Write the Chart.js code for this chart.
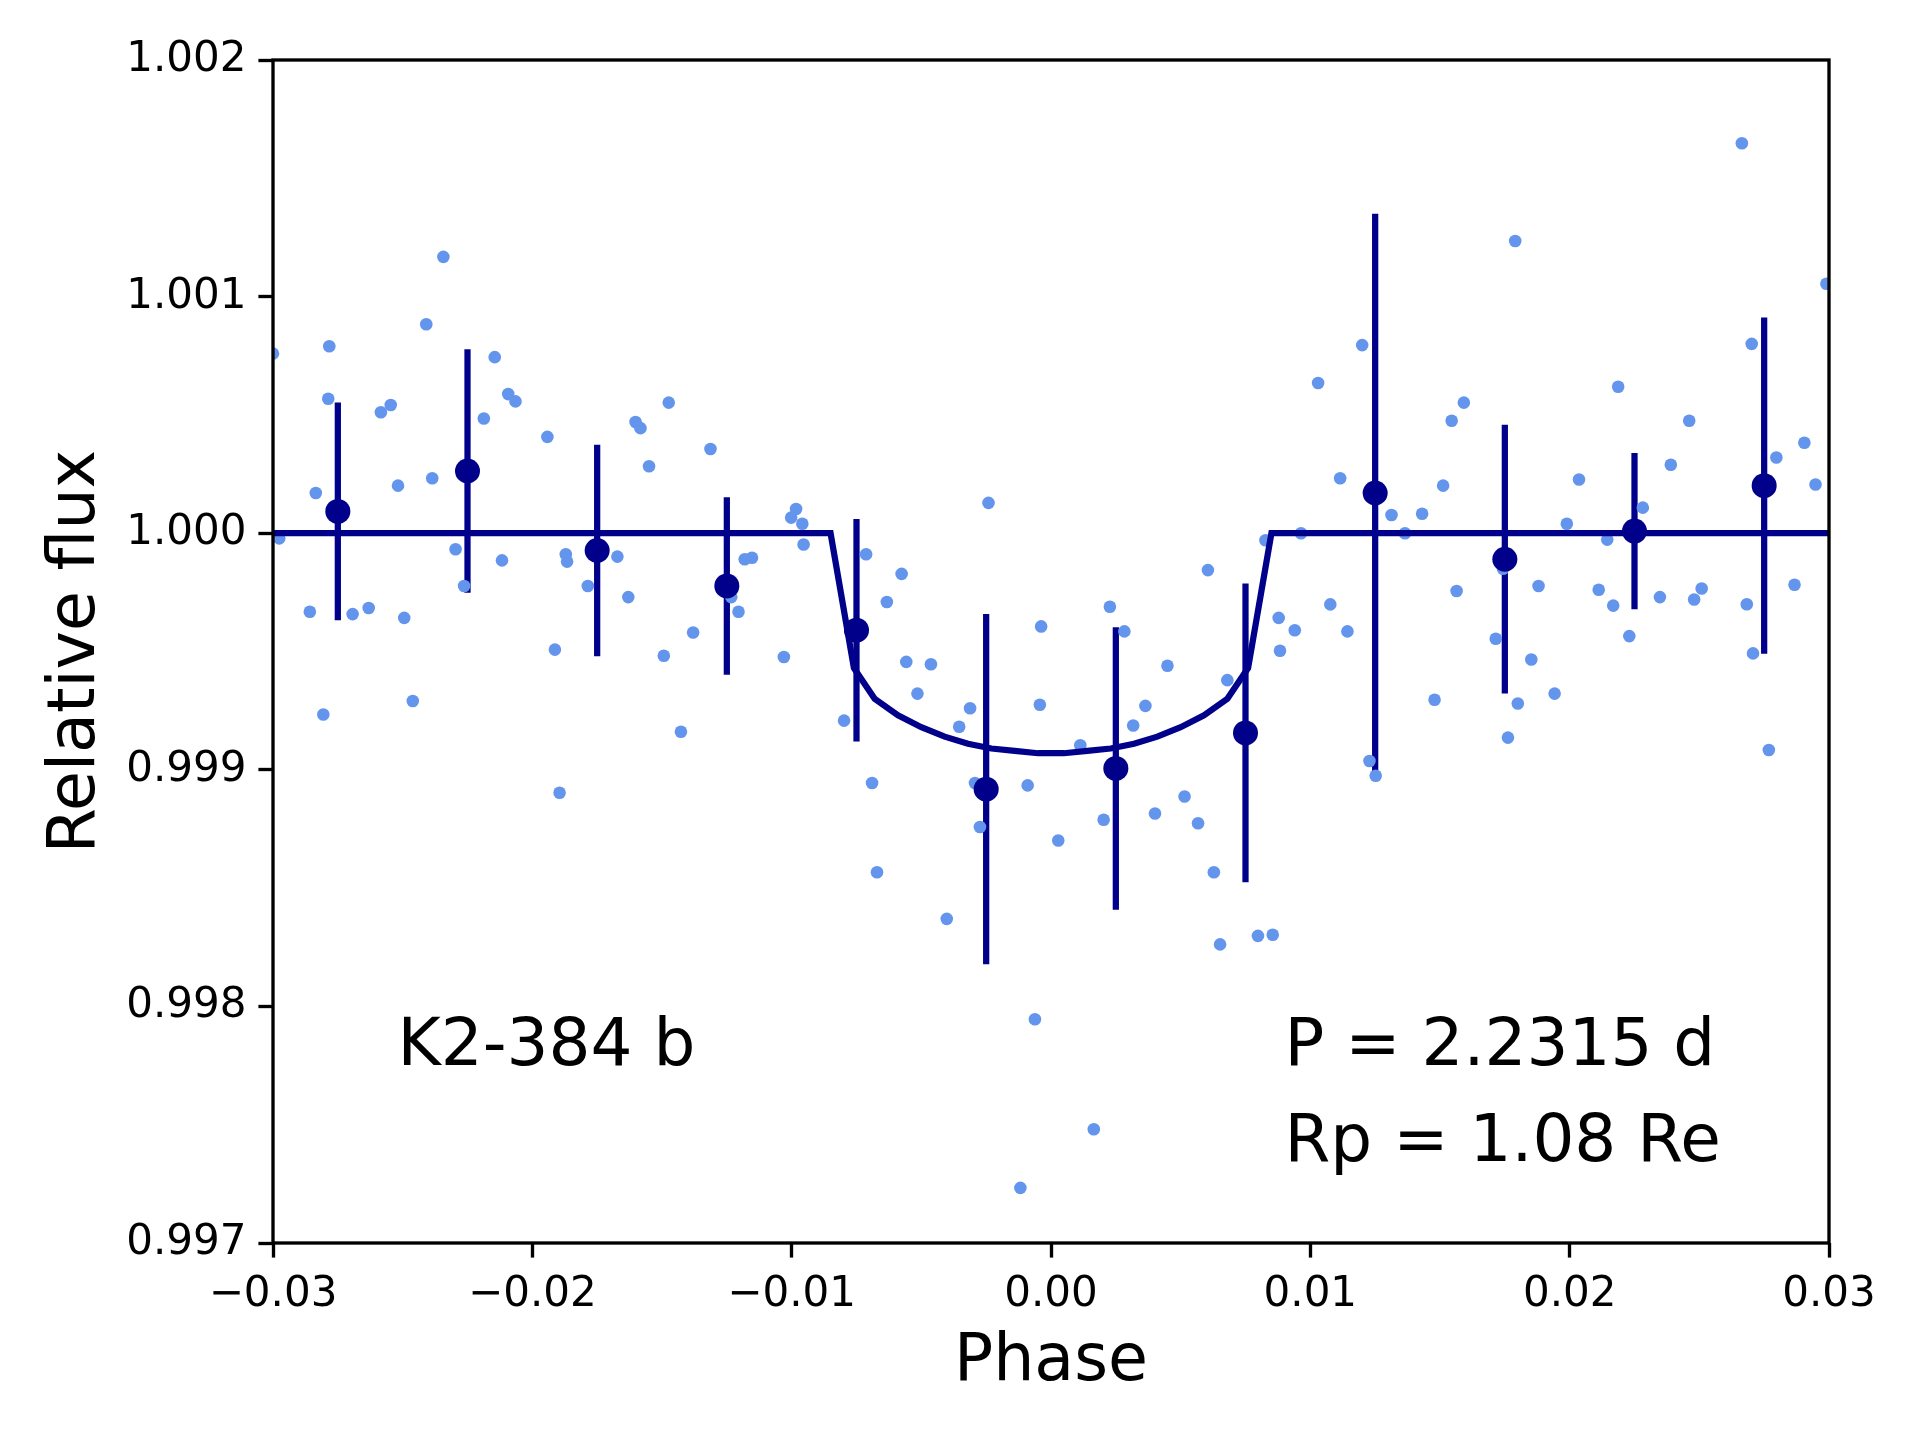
<!DOCTYPE html>
<html lang="en">
<head>
    <meta charset="UTF-8">
    <title>K2-384 b phase-folded light curve</title>
    <script src="https://cdn.jsdelivr.net/npm/chart.js@4.4.1/dist/chart.umd.min.js"></script>
    <style>
        html, body { margin: 0; padding: 0; background: #fff; }
        canvas { display: block; }
    </style>
</head>
<body>
    <canvas id="lcChart" width="1920" height="1440"></canvas>

    <script>
        // Unbinned photometry (phase, relative flux)
        const rawPhase = [
            -0.03000, -0.02976, -0.02858, -0.02835, -0.02806, -0.02787, -0.02783, -0.02693, -0.02631, -0.02584,
            -0.02546, -0.02518, -0.02494, -0.02461, -0.02409, -0.02386, -0.02343, -0.02296, -0.02263, -0.02187,
            -0.02145, -0.02117, -0.02093, -0.02065, -0.01942, -0.01913, -0.01895, -0.01871, -0.01866, -0.01786,
            -0.01672, -0.01630, -0.01602, -0.01583, -0.01550, -0.01493, -0.01474, -0.01427, -0.01380, -0.01313,
            -0.01233, -0.01205, -0.01181, -0.01153, -0.01030, -0.01002, -0.00983, -0.00959, -0.00954, -0.00798,
            -0.00713, -0.00690, -0.00671, -0.00633, -0.00576, -0.00558, -0.00515, -0.00463, -0.00402, -0.00354,
            -0.00312, -0.00293, -0.00274, -0.00241, -0.00090, -0.00062, -0.00043, -0.00038, -0.00118, 0.00028,
            0.00113, 0.00165, 0.00203, 0.00227, 0.00283, 0.00317, 0.00364, 0.00401, 0.00449, 0.00515,
            0.00567, 0.00605, 0.00628, 0.00652, 0.00680, 0.00798, 0.00827, 0.00855, 0.00883, 0.00878,
            0.00940, 0.00964, 0.01030, 0.01077, 0.01115, 0.01143, 0.01200, 0.01228, 0.01252, 0.01313,
            0.01365, 0.01431, 0.01479, 0.01512, 0.01545, 0.01564, 0.01592, 0.01715, 0.01762, 0.01790,
            0.01800, 0.01852, 0.01880, 0.01942, 0.01989, 0.02036, 0.02112, 0.02145, 0.02168, 0.02187,
            0.02230, 0.02282, 0.02348, 0.02390, 0.02461, 0.02480, 0.02509, 0.02664, 0.02683, 0.02702,
            0.02707, 0.02768, 0.02797, 0.02867, 0.02905, 0.02948, 0.02990, 0.01743
        ];
        const rawFlux = [
            1.000759, 0.999978, 0.999668, 1.000170, 0.999234, 1.000568, 1.000790, 0.999658, 0.999684, 1.000511,
            1.000542, 1.000201, 0.999642, 0.999291, 1.000883, 1.000232, 1.001168, 0.999932, 0.999777, 1.000485,
            1.000744, 0.999885, 1.000588, 1.000557, 1.000407, 0.999508, 0.998903, 0.999911, 0.999880, 0.999777,
            0.999901, 0.999730, 1.000470, 1.000444, 1.000283, 0.999482, 1.000552, 0.999161, 0.999580, 1.000356,
            0.999730, 0.999668, 0.999890, 0.999896, 0.999477, 1.000066, 1.000102, 1.000040, 0.999952, 0.999208,
            0.999911, 0.998944, 0.998567, 0.999709, 0.999828, 0.999456, 0.999322, 0.999446, 0.998370, 0.999182,
            0.999260, 0.998944, 0.998758, 1.000128, 0.998934, 0.997946, 0.999275, 0.999606, 0.997233, 0.998701,
            0.999104, 0.997481, 0.998789, 0.999689, 0.999585, 0.999187, 0.999270, 0.998815, 0.999440, 0.998887,
            0.998774, 0.999844, 0.998567, 0.998262, 0.999379, 0.998298, 0.999970, 0.998303, 0.999503, 0.999642,
            0.999590, 1.000000, 1.000635, 0.999699, 1.000232, 0.999585, 1.000795, 0.999037, 0.998975, 1.000077,
            1.000000, 1.000082, 0.999296, 1.000201, 1.000475, 0.999756, 1.000552, 0.999554, 0.999136, 1.001235,
            0.999280, 0.999466, 0.999777, 0.999322, 1.000040, 1.000227, 0.999761, 0.999973, 0.999694, 1.000619,
            0.999565, 1.000108, 0.999730, 1.000289, 1.000475, 0.999720, 0.999766, 1.001648, 0.999700, 1.000800,
            0.999492, 0.999084, 1.000320, 0.999782, 1.000382, 1.000206, 1.001054, 0.999850
        ];

        // Binned points with 1-sigma errors
        const binPhase = [-0.0275, -0.0225, -0.0175, -0.0125, -0.0075, -0.0025, 0.0025, 0.0075, 0.0125, 0.0175, 0.0225, 0.0275];
        const binFlux  = [1.000092, 1.000263, 0.999927, 0.999777, 0.999590, 0.998918, 0.999006, 0.999156, 1.000170, 0.999890, 1.000009, 1.000201];
        const binErr   = [0.000460, 0.000515, 0.000447, 0.000375, 0.000470, 0.000740, 0.000597, 0.000631, 0.001180, 0.000568, 0.000330, 0.000711];

        // Transit model
        const modelPhase = [-0.0300, -0.0085, -0.0076, -0.0068, -0.0059, -0.0050, -0.0041, -0.0032, -0.0023, -0.0014, -0.0005,
                            0.0005, 0.0014, 0.0023, 0.0032, 0.0041, 0.0050, 0.0059, 0.0068, 0.0076, 0.0085, 0.0300];
        const modelFlux  = [1.00000, 1.00000, 0.99943, 0.99930, 0.99923, 0.99918, 0.99914, 0.99911, 0.99909, 0.99908, 0.99907,
                            0.99907, 0.99908, 0.99909, 0.99911, 0.99914, 0.99918, 0.99923, 0.99930, 0.99943, 1.00000, 1.00000];

        // Axis ticks
        const xTicks = [-0.03, -0.02, -0.01, 0.00, 0.01, 0.02, 0.03];
        const xTickLabels = ['\u22120.03', '\u22120.02', '\u22120.01', '0.00', '0.01', '0.02', '0.03'];
        const yTicks = [0.997, 0.998, 0.999, 1.000, 1.001, 1.002];
        const yTickLabels = ['0.997', '0.998', '0.999', '1.000', '1.001', '1.002'];

        const planetName = 'K2-384 b';
        const infoLines = ['P = 2.2315 d', 'Rp = 1.08 Re'];

        const FONT = '"DejaVu Sans", "Liberation Sans", sans-serif';
        const DARK = '#00008B';
        const LIGHT = '#6495ED';
        const LW = 6.25;      // 1.5pt at 300 dpi
        const SPINE = 3.33;   // 0.8pt
        const TICK = 14.6;    // 3.5pt

        const toPoints = (xs, ys) => xs.map((x, i) => ({ x: x, y: ys[i] }));

        const errorBarsAndFrame = {
            id: 'errorBarsAndFrame',
            beforeDatasetDraw(chart, args) {
                if (args.index !== 2) return;
                const { ctx, scales: { x, y } } = chart;
                ctx.save();
                ctx.strokeStyle = DARK;
                ctx.lineWidth = LW;
                ctx.lineCap = 'butt';
                binPhase.forEach((p, i) => {
                    const px = x.getPixelForValue(p);
                    ctx.beginPath();
                    ctx.moveTo(px, y.getPixelForValue(binFlux[i] - binErr[i]));
                    ctx.lineTo(px, y.getPixelForValue(binFlux[i] + binErr[i]));
                    ctx.stroke();
                });
                ctx.restore();
            },
            afterDatasetsDraw(chart) {
                const { ctx, chartArea: a, scales: { x, y } } = chart;
                ctx.save();
                // axes frame
                ctx.strokeStyle = '#000';
                ctx.lineWidth = SPINE;
                ctx.strokeRect(a.left, a.top, a.right - a.left, a.bottom - a.top);

                // annotations
                ctx.fillStyle = '#000';
                ctx.font = '66px ' + FONT;
                ctx.textBaseline = 'alphabetic';
                ctx.textAlign = 'left';
                ctx.fillText(planetName, x.getPixelForValue(-0.0252), y.getPixelForValue(0.997752));
                ctx.fillText(infoLines[0], x.getPixelForValue(0.0090), y.getPixelForValue(0.997752));
                ctx.fillText(infoLines[1], x.getPixelForValue(0.0090), y.getPixelForValue(0.997347));

                // axis titles
                ctx.font = '65px ' + FONT;
                ctx.textAlign = 'center';
                ctx.fillText('Phase', (a.left + a.right) / 2, 1380);
                ctx.translate(94, (a.top + a.bottom) / 2);
                ctx.rotate(-Math.PI / 2);
                ctx.fillText('Relative flux', 0, 0);
                ctx.restore();
            }
        };

        new Chart(document.getElementById('lcChart'), {
            type: 'scatter',
            data: {
                datasets: [
                    {
                        label: 'Binned',
                        data: toPoints(binPhase, binFlux),
                        backgroundColor: DARK,
                        borderWidth: 0,
                        pointRadius: 12.5,
                        order: 1,
                        clip: 0
                    },
                    {
                        label: 'Model',
                        type: 'line',
                        data: toPoints(modelPhase, modelFlux),
                        borderColor: DARK,
                        borderWidth: LW,
                        pointRadius: 0,
                        tension: 0,
                        fill: false,
                        order: 2,
                        clip: 0
                    },
                    {
                        label: 'Data',
                        data: toPoints(rawPhase, rawFlux),
                        backgroundColor: LIGHT,
                        borderWidth: 0,
                        pointRadius: 6.3,
                        order: 3,
                        clip: 0
                    }
                ]
            },
            options: {
                responsive: false,
                animation: false,
                devicePixelRatio: 1,
                layout: { padding: { top: 60, right: 91, left: 0, bottom: 0 } },
                plugins: {
                    legend: { display: false },
                    tooltip: { enabled: false }
                },
                scales: {
                    x: {
                        type: 'linear',
                        min: -0.03,
                        max: 0.03,
                        afterBuildTicks: (s) => { s.ticks = xTicks.map(v => ({ value: v })); },
                        afterFit: (s) => { s.height = 197; },
                        border: { display: false },
                        grid: {
                            drawOnChartArea: false,
                            drawTicks: true,
                            tickLength: TICK,
                            tickWidth: SPINE,
                            tickColor: '#000'
                        },
                        ticks: {
                            autoSkip: false,
                            maxRotation: 0,
                            padding: 12,
                            color: '#000',
                            font: { family: FONT, size: 42 },
                            callback: (v, i) => xTickLabels[i]
                        }
                    },
                    y: {
                        type: 'linear',
                        min: 0.997,
                        max: 1.002,
                        afterBuildTicks: (s) => { s.ticks = yTicks.map(v => ({ value: v })); },
                        afterFit: (s) => { s.width = 273; },
                        border: { display: false },
                        grid: {
                            drawOnChartArea: false,
                            drawTicks: true,
                            tickLength: TICK,
                            tickWidth: SPINE,
                            tickColor: '#000'
                        },
                        ticks: {
                            autoSkip: false,
                            padding: 12,
                            color: '#000',
                            font: { family: FONT, size: 42 },
                            callback: (v, i) => yTickLabels[i]
                        }
                    }
                }
            },
            plugins: [errorBarsAndFrame]
        });
    </script>
</body>
</html>
